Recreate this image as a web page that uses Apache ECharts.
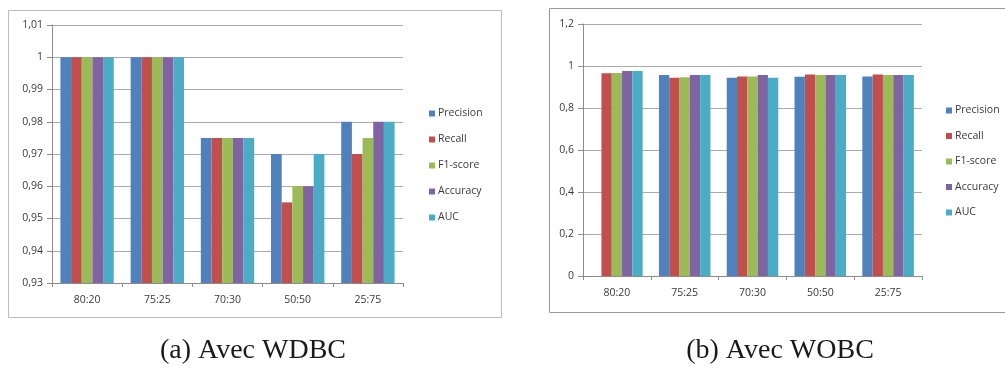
<!DOCTYPE html>
<html>
<head>
<meta charset="utf-8">
<script src="https://cdn.jsdelivr.net/npm/echarts@6/dist/echarts.min.js"></script>
<style>
  html, body { margin: 0; padding: 0; background: #ffffff; }
  #chart { width: 1005px; height: 369px; }
</style>
</head>
<body>
<div id="chart"></div>
<script>
// Train:test split ratios
const categories = ['80:20', '75:25', '70:30', '50:50', '25:75'];
const metrics = ['Precision', 'Recall', 'F1-score', 'Accuracy', 'AUC'];
const colors = ['#4F81BD', '#C0504D', '#9BBB59', '#8064A2', '#4BACC6'];

// (a) WDBC scores per metric
const wdbcPrecision = [1, 1, 0.975, 0.97, 0.98];
const wdbcRecall    = [1, 1, 0.975, 0.955, 0.97];
const wdbcF1        = [1, 1, 0.975, 0.96, 0.975];
const wdbcAccuracy  = [1, 1, 0.975, 0.96, 0.98];
const wdbcAUC       = [1, 1, 0.975, 0.97, 0.98];

// (b) WOBC scores per metric
const wobcPrecision = [0, 0.957, 0.944, 0.949, 0.950];
const wobcRecall    = [0.965, 0.944, 0.950, 0.960, 0.960];
const wobcF1        = [0.967, 0.947, 0.950, 0.957, 0.957];
const wobcAccuracy  = [0.976, 0.957, 0.957, 0.957, 0.957];
const wobcAUC       = [0.976, 0.957, 0.944, 0.957, 0.957];

// Y-axis ranges
const wdbcTicks = { min: 0.93, max: 1.01, interval: 0.01 };
const wobcTicks = { min: 0, max: 1.2, interval: 0.2 };

const captionA = '(a) Avec WDBC';
const captionB = '(b) Avec WOBC';

const wdbcSets = [wdbcPrecision, wdbcRecall, wdbcF1, wdbcAccuracy, wdbcAUC];
const wobcSets = [wobcPrecision, wobcRecall, wobcF1, wobcAccuracy, wobcAUC];

const labelFont = { fontFamily: 'Open Sans, Liberation Sans, sans-serif', fontSize: 10.5, color: '#3a3a3a' };

function commaFormat(digits) {
  return v => String(Number(v.toFixed(digits))).replace('.', ',');
}

function xAxis(gridIndex) {
  return {
    type: 'category', gridIndex, data: categories, boundaryGap: true,
    axisLine: { lineStyle: { color: '#8c8c8c', width: 1 } },
    axisTick: { show: true, length: 4, alignWithLabel: false, lineStyle: { color: '#8c8c8c' } },
    axisLabel: Object.assign({ margin: 12 }, labelFont),
    splitLine: { show: false }
  };
}

function yAxis(gridIndex, t, digits) {
  return {
    type: 'value', gridIndex, min: t.min, max: t.max, interval: t.interval,
    axisLine: { show: true, lineStyle: { color: '#8c8c8c', width: 1 } },
    axisTick: { show: true, length: 5, lineStyle: { color: '#8c8c8c' } },
    axisLabel: Object.assign({ margin: 9, formatter: commaFormat(digits) }, labelFont),
    splitLine: { show: true, lineStyle: { color: '#ababab', width: 1 } }
  };
}

function barSeries(sets, axisIndex) {
  return sets.map((values, i) => ({
    name: metrics[i], type: 'bar',
    xAxisIndex: axisIndex, yAxisIndex: axisIndex,
    data: values, barGap: '0%', barCategoryGap: '24%',
    itemStyle: { color: colors[i] },
    animation: false
  }));
}

function legend(left, top, gap) {
  return {
    data: metrics, orient: 'vertical', left, top,
    icon: 'rect', itemWidth: 6, itemHeight: 6, itemGap: gap,
    textStyle: { fontFamily: 'Open Sans, Liberation Sans, sans-serif', fontSize: 10.5, color: '#3a3a3a', padding: [0, 0, 0, -2] },
    selectedMode: false
  };
}

const chart = echarts.init(document.getElementById('chart'), null, { renderer: 'canvas' });
chart.setOption({
  backgroundColor: '#ffffff',
  animation: false,
  graphic: [
    { type: 'rect', shape: { x: 8.5, y: 10.5, width: 493, height: 307 }, style: { fill: 'none', stroke: '#bdbdbd', lineWidth: 1 }, z: -1 },
    { type: 'rect', shape: { x: 549.5, y: 8.5, width: 470, height: 304 }, style: { fill: 'none', stroke: '#9a9a9a', lineWidth: 1 }, z: -1 }
  ],
  title: [
    { text: captionA, left: 248, top: 332, textAlign: 'center',
      textStyle: { fontFamily: 'Liberation Serif, Times New Roman, serif', fontSize: 28, fontWeight: 'normal', color: '#1a1a1a' } },
    { text: captionB, left: 775, top: 332, textAlign: 'center',
      textStyle: { fontFamily: 'Liberation Serif, Times New Roman, serif', fontSize: 28, fontWeight: 'normal', color: '#1a1a1a' } }
  ],
  legend: [legend(424, 103, 15), legend(941, 100, 14.5)],
  grid: [
    { left: 52, right: 602, top: 25, bottom: 86 },
    { left: 583, right: 83, top: 24, bottom: 93 }
  ],
  xAxis: [xAxis(0), xAxis(1)],
  yAxis: [yAxis(0, wdbcTicks, 2), yAxis(1, wobcTicks, 1)],
  series: barSeries(wdbcSets, 0).concat(barSeries(wobcSets, 1))
});
</script>
</body>
</html>
